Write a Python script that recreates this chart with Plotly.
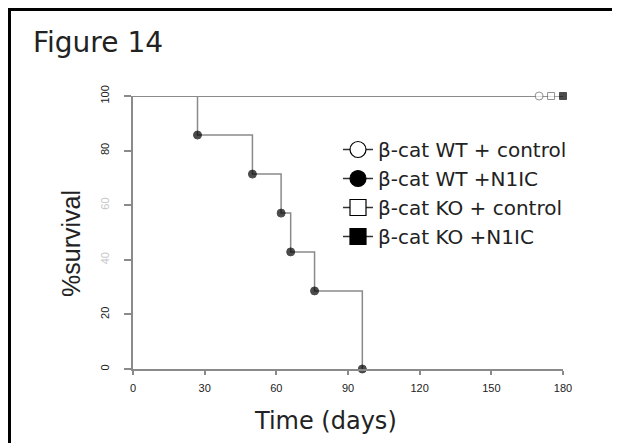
import plotly.graph_objects as go

# ---- data ----
wt_n1ic_days = [0, 27, 50, 62, 66, 76, 96]
wt_n1ic_surv = [100, 85.7, 71.4, 57.1, 42.9, 28.6, 0]
wt_ctrl_days = [0, 170]
wt_ctrl_surv = [100, 100]
ko_ctrl_days = [0, 175]
ko_ctrl_surv = [100, 100]
ko_n1ic_days = [0, 180]
ko_n1ic_surv = [100, 100]

series_names = ["β-cat WT + control", "β-cat WT +N1IC", "β-cat KO + control", "β-cat KO +N1IC"]
x_ticks = [0, 30, 60, 90, 120, 150, 180]
y_ticks = [0, 20, 40, 60, 80, 100]
y_tick_labels = ["0", "20", "<span style='color:#c8c8c8'>40</span>",
                 "<span style='color:#c8c8c8'>60</span>", "80", "100"]

# The page body has an 8px margin, so the figure is 8px smaller than the window.
OFF = 8
W, H = 620 - OFF, 443 - OFF
L, R, T, B = 133, 563, 96, 369   # plot area in window pixels


def px(x):
    return (x - L) / (R - L)


def py(y):
    return (B - y) / (B - T)


GRAY = "#8a8a8a"
fig = go.Figure()


def km_trace(days, surv, symbol, fill, edge, size):
    sizes = [0] + [size] * (len(days) - 1)
    return go.Scatter(
        x=days, y=surv, mode="lines+markers", line=dict(shape="hv", color=GRAY, width=1.5),
        marker=dict(symbol=symbol, size=sizes, color=fill, line=dict(color=edge, width=1)),
        showlegend=False, cliponaxis=False, hoverinfo="x+y",
    )


fig.add_trace(km_trace(ko_n1ic_days, ko_n1ic_surv, "square", "black", "black", 7))
fig.add_trace(km_trace(ko_ctrl_days, ko_ctrl_surv, "square", "white", "#666", 7))
fig.add_trace(km_trace(wt_ctrl_days, wt_ctrl_surv, "circle", "white", "#666", 8))
fig.add_trace(km_trace(wt_n1ic_days, wt_n1ic_surv, "circle", "black", "black", 8))

legend_styles = [("circle", "white"), ("circle", "black"), ("square", "white"), ("square", "black")]
for name, (sym, fill) in zip(series_names, legend_styles):
    fig.add_trace(go.Scatter(
        x=[None], y=[None], mode="lines+markers", name=name,
        line=dict(color="#333", width=1.5),
        marker=dict(symbol=sym, size=16, color=fill, line=dict(color="black", width=1.2)),
    ))

axis_common = dict(showgrid=False, zeroline=False, showline=True, linecolor=GRAY, linewidth=1.5,
                   ticks="outside", tickcolor=GRAY, tickwidth=1.5,
                   tickfont=dict(family="Liberation Sans", size=11, color="#222"))

fig.update_layout(
    width=W, height=H,
    margin=dict(l=L - OFF, r=620 - R, t=T - OFF, b=443 - B),
    paper_bgcolor="white", plot_bgcolor="white",
    xaxis=dict(range=[0, 180], tickvals=x_ticks, ticklen=4, ticklabelstandoff=4, **axis_common),
    yaxis=dict(range=[0, 100], tickvals=y_ticks, ticktext=y_tick_labels, tickangle=-90,
               ticklen=7, ticklabelstandoff=11, **axis_common),
    legend=dict(x=px(338), y=py(130), xanchor="left", yanchor="top",
                bgcolor="rgba(0,0,0,0)", font=dict(family="DejaVu Sans", size=20, color="#222"),
                itemsizing="trace"),
    shapes=[
        dict(type="line", xref="paper", yref="paper", x0=px(8), x1=px(630), y0=py(9.5), y1=py(9.5),
             line=dict(color="black", width=3)),
        dict(type="line", xref="paper", yref="paper", x0=px(9.5), x1=px(9.5), y0=py(8), y1=py(450),
             line=dict(color="black", width=3)),
    ],
    annotations=[
        dict(text="Figure 14", xref="paper", yref="paper", x=px(31), y=py(42), xanchor="left",
             yanchor="middle", showarrow=False, font=dict(family="DejaVu Sans", size=28, color="#222")),
        dict(text="Time (days)", xref="paper", yref="paper", x=px(325), y=py(421), xanchor="center",
             yanchor="middle", showarrow=False, font=dict(family="DejaVu Sans", size=24, color="#222")),
        dict(text="%survival", xref="paper", yref="paper", x=px(71), y=py(243), xanchor="center",
             yanchor="middle", textangle=-90, showarrow=False,
             font=dict(family="Liberation Sans", size=25, color="#222")),
    ],
)

fig.write_html("out.html")
